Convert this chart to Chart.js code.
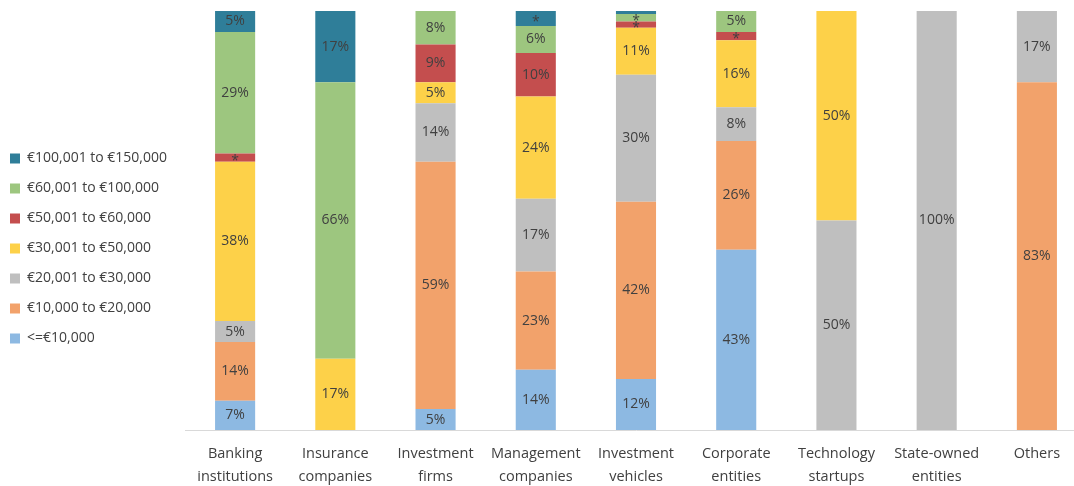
<!DOCTYPE html>
<html>
<head>
<meta charset="utf-8">
<script src="https://cdn.jsdelivr.net/npm/chart.js@4.4.1/dist/chart.umd.min.js"></script>
<style>
  html, body { margin: 0; padding: 0; background: #ffffff; overflow: hidden; }
  #wrap { width: 1087px; height: 486px; }
</style>
</head>
<body>
<div id="wrap"><canvas id="c" width="1087" height="486"></canvas></div>
<script>
// Entity types along the x axis (two-line tick labels)
const categories = [
  ['Banking', 'institutions'],
  ['Insurance', 'companies'],
  ['Investment', 'firms'],
  ['Management', 'companies'],
  ['Investment', 'vehicles'],
  ['Corporate', 'entities'],
  ['Technology', 'startups'],
  ['State-owned', 'entities'],
  ['Others']
];

// Share of each amount band per entity type, in percent (stacked bottom to top)
const upTo10k      = [7,  0,  5, 14.4, 12.2, 43,  0,   0,  0];
const from10kTo20k = [14, 0, 59, 23.4, 42.3, 26,  0,   0, 83];
const from20kTo30k = [5,  0, 14, 17.4, 30.3,  8, 50, 100, 17];
const from30kTo50k = [38, 17, 5, 24.4, 11.2, 16, 50,   0,  0];
const from50kTo60k = [2,  0,  9, 10.4,  1.5,  2,  0,   0,  0];
const from60kTo100k = [29, 66, 8, 6.4,  1.8,  5,  0,   0,  0];
const from100kTo150k = [5, 17, 0, 3.6,  0.7,  0,  0,   0,  0];

const seriesNames = [
  '<=€10,000',
  '€10,000 to €20,000',
  '€20,001 to €30,000',
  '€30,001 to €50,000',
  '€50,001 to €60,000',
  '€60,001 to €100,000',
  '€100,001 to €150,000'
];
const seriesValues = [upTo10k, from10kTo20k, from20kTo30k, from30kTo50k, from50kTo60k, from60kTo100k, from100kTo150k];
const seriesColors = ['#8DB9E2', '#F2A26B', '#BFBFBF', '#FDD149', '#C44E4E', '#9DC67F', '#2F7E99'];

const FONT = '"Open Sans", "Noto Sans", sans-serif';
const TEXT = '#404040';
const PLOT_LEFT = 185;
const PAD_LEFT = -6;

// Percent labels in the middle of each segment; thin segments get an asterisk
const segmentLabels = {
  id: 'segmentLabels',
  afterDatasetsDraw(chart) {
    const ctx = chart.ctx;
    ctx.save();
    ctx.font = '14px ' + FONT;
    ctx.fillStyle = TEXT;
    ctx.textAlign = 'center';
    ctx.textBaseline = 'middle';
    chart.data.datasets.forEach((ds, di) => {
      const meta = chart.getDatasetMeta(di);
      meta.data.forEach((bar, i) => {
        const v = ds.data[i];
        if (!v) return;
        const mid = (bar.y + bar.base) / 2;
        if (v >= 4.5) {
          ctx.fillText(Math.round(v) + '%', bar.x, mid);
        } else if (v >= 1) {
          ctx.fillText('*', bar.x, mid + 3);
        }
      });
    });
    ctx.restore();
  }
};

new Chart(document.getElementById('c'), {
  type: 'bar',
  data: {
    labels: categories,
    datasets: seriesValues.map((vals, i) => ({
      label: seriesNames[i],
      data: vals,
      backgroundColor: seriesColors[i],
      borderWidth: 0,
      categoryPercentage: 1,
      barPercentage: 0.4
    }))
  },
  options: {
    responsive: false,
    animation: false,
    layout: { padding: { top: 11, left: PAD_LEFT, right: 0, bottom: 0 } },
    plugins: {
      tooltip: { enabled: false },
      legend: {
        position: 'left',
        reverse: true,
        labels: {
          boxWidth: 10,
          boxHeight: 10,
          padding: 16,
          color: TEXT,
          font: { family: FONT, size: 14 }
        }
      }
    },
    scales: {
      x: {
        stacked: true,
        grid: { display: false },
        border: { display: true, color: '#D9D9D9', width: 1 },
        ticks: {
          color: TEXT,
          padding: 5,
          maxRotation: 0,
          autoSkip: false,
          font: { family: FONT, size: 14.5, lineHeight: 1.55 }
        },
        afterFit(scale) { scale.height = 56; }
      },
      y: {
        stacked: true,
        min: 0,
        max: 100,
        grid: { display: false },
        border: { display: false },
        ticks: { display: false },
        afterFit(scale) {
          const lg = scale.chart.legend;
          scale.width = Math.max(0, PLOT_LEFT - PAD_LEFT - (lg ? lg.width : 0));
        }
      }
    }
  },
  plugins: [segmentLabels]
});
</script>
</body>
</html>
